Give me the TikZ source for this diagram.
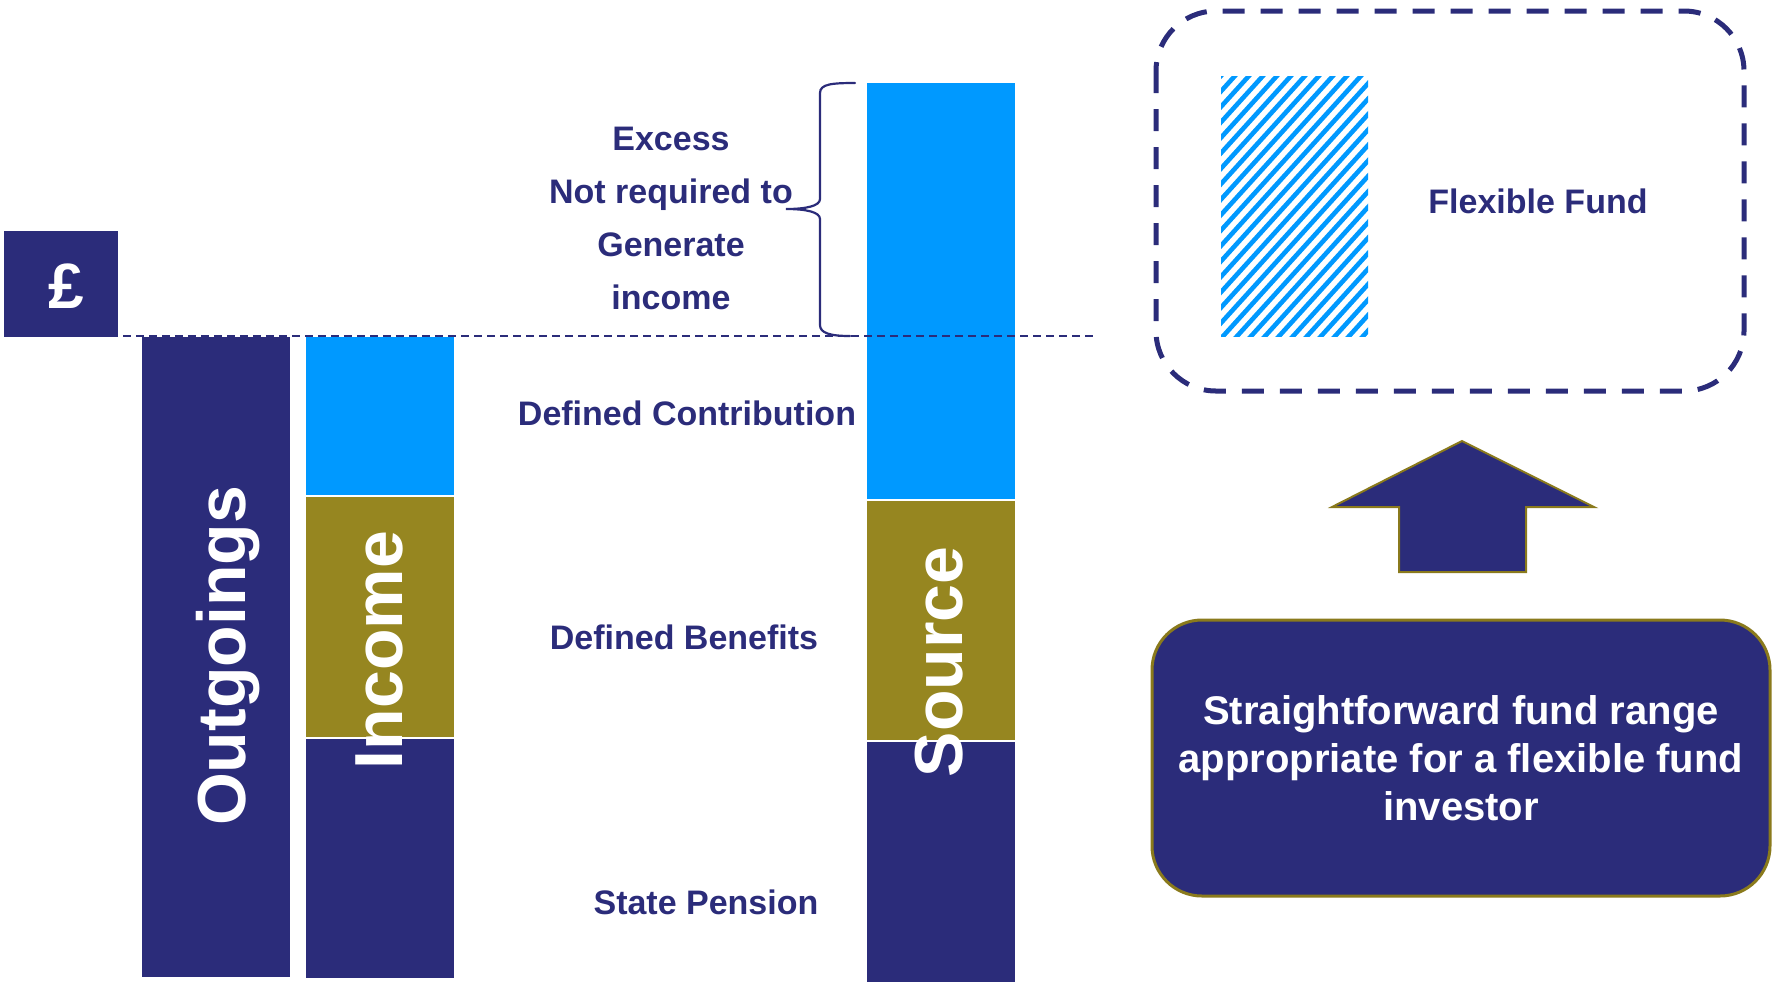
\documentclass[tikz,border=0pt]{standalone}
\usepackage{fontspec}
\setmainfont{Liberation Sans}
\definecolor{navy}{RGB}{43,44,122}
\definecolor{skyblue}{RGB}{0,153,255}
\definecolor{barolive}{RGB}{150,134,32}
\definecolor{oliveline}{RGB}{138,122,28}
\begin{document}
\begin{tikzpicture}[x=0.5pt,y=-0.5pt,
  lbl/.style={text=navy,font=\bfseries\fontsize{17}{26.5}\selectfont,inner sep=0pt,align=center},
  barlabel/.style={text=white,rotate=90,font=\bfseries\fontsize{34}{40}\selectfont,inner sep=0pt}]
\useasboundingbox (0,0) rectangle (1773,982);

% pound sign block
\fill[navy] (4,231) rectangle (118,337);
\node[text=white,font=\bfseries\fontsize{32}{36}\selectfont,inner sep=0pt] (pound) at (66,286) {£};

% outgoings column
\fill[navy] (142,337) rectangle (290,977);
\node[barlabel] (outgo) at (228,656) {Outgoings};

% income column
\fill[skyblue] (306,337) rectangle (454,495);
\fill[barolive] (306,497) rectangle (454,737);
\fill[navy] (306,739) rectangle (454,978);
\node[barlabel] (income) at (379,650) {Income};

% source column
\fill[skyblue] (867,83) rectangle (1015,499);
\fill[barolive] (867,501) rectangle (1015,740);
\fill[navy] (867,742) rectangle (1015,982);
\node[barlabel] (source) at (939,662) {Source};

% brace over the excess
\draw[navy,line width=1.1pt,line cap=round]
  (855,83) .. controls (832,83) and (820,84) .. (820,93)
  -- (820,199) .. controls (820,206) and (806,209) .. (786,209)
  .. controls (806,209) and (820,212) .. (820,219)
  -- (820,325) .. controls (820,333) and (830,336) .. (850,336);

% income threshold line
\coordinate (lineA) at (110,336);
\coordinate (lineB) at (1093,336);
\draw[navy,line width=1pt,dash pattern=on 4pt off 2.5pt] (lineA) -- (lineB);

% labels
\node[lbl] (excess) at (671,218) {Excess\\Not required to\\Generate\\income};
\node[lbl] (dc) at (687,413) {Defined Contribution};
\node[lbl] (db) at (684,637) {Defined Benefits};
\node[lbl] (sp) at (706,902) {State Pension};

% flexible fund panel
\draw[navy,line width=2.5pt,dash pattern=on 11pt off 8pt,rounded corners=30pt]
  (1156,11) rectangle (1744,391);
\begin{scope}
  \clip (1221,76) rectangle (1368,336);
  \foreach \k in {0,...,32}
    \draw[skyblue,line width=2.3pt] ({930+14*\k},366) -- ({1220+14*\k},46);
\end{scope}
\node[lbl] (flex) at (1538,201) {Flexible Fund};

% upward arrow
\draw[fill=navy,draw=oliveline,line width=1pt]
  (1462,441) -- (1594,507) -- (1526,507) -- (1526,572)
  -- (1399,572) -- (1399,507) -- (1332,507) -- cycle;

% fund range box
\node[draw=oliveline,fill=navy,line width=1.5pt,rounded corners=25pt,
      minimum width=309pt,minimum height=138pt,inner sep=0pt,
      text=white,align=center,font=\bfseries\fontsize{20}{24}\selectfont]
  (range) at (1461,758)
  {Straightforward fund range\\appropriate for a flexible fund\\investor};
\end{tikzpicture}
\end{document}
